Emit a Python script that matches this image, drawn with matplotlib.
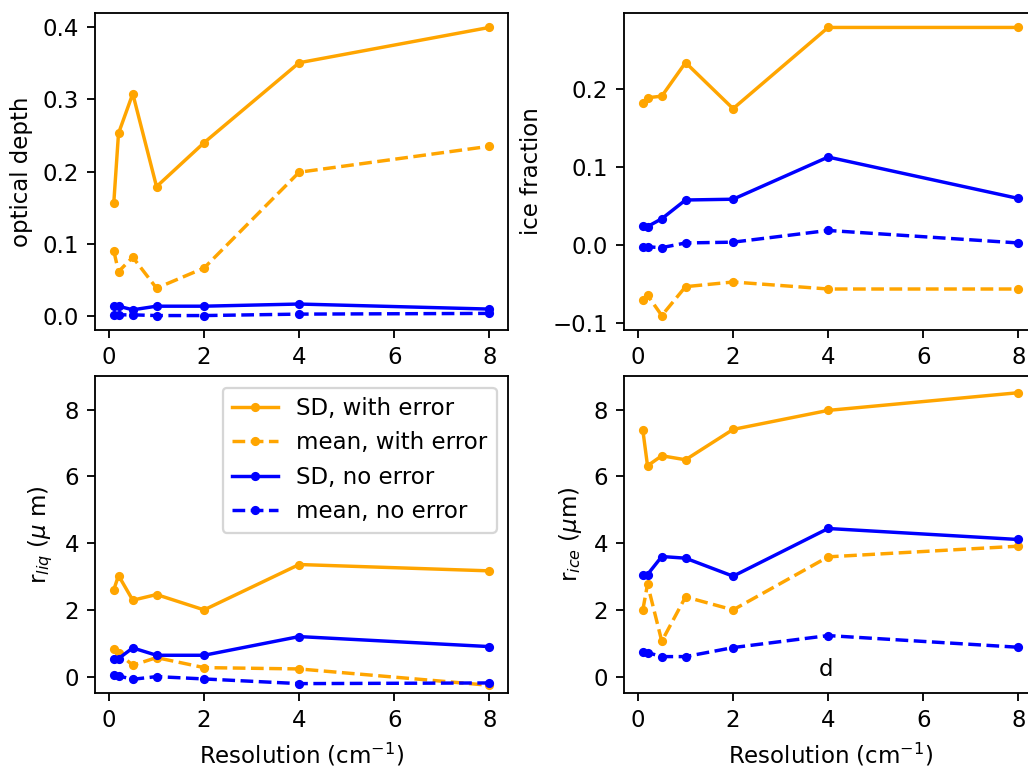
import numpy as np
import matplotlib
matplotlib.use('Agg')
import matplotlib.pyplot as plt

# resolution values (cm^-1)
res = [0.1, 0.2, 0.5, 1, 2, 4, 8]

# optical depth
od_sd_err = [0.156, 0.253, 0.308, 0.179, 0.240, 0.351, 0.400]
od_mean_err = [0.090, 0.061, 0.081, 0.038, 0.066, 0.199, 0.235]
od_sd_noerr = [0.013, 0.013, 0.008, 0.013, 0.013, 0.016, 0.009]
od_mean_noerr = [0.001, 0.001, 0.001, 0.000, 0.000, 0.002, 0.003]

# ice fraction
fi_sd_err = [0.182, 0.189, 0.191, 0.234, 0.175, 0.279, 0.279]
fi_mean_err = [-0.070, -0.064, -0.090, -0.053, -0.047, -0.056, -0.056]
fi_sd_noerr = [0.025, 0.024, 0.034, 0.058, 0.059, 0.113, 0.060]
fi_mean_noerr = [-0.002, -0.002, -0.003, 0.003, 0.004, 0.019, 0.003]

# liquid effective radius
rl_sd_err = [2.60, 3.03, 2.29, 2.46, 2.00, 3.36, 3.17]
rl_mean_err = [0.84, 0.70, 0.34, 0.57, 0.27, 0.23, -0.26]
rl_sd_noerr = [0.54, 0.54, 0.86, 0.64, 0.64, 1.20, 0.90]
rl_mean_noerr = [0.05, 0.02, -0.08, 0.00, -0.07, -0.21, -0.19]

# ice effective radius
ri_sd_err = [7.40, 6.32, 6.62, 6.50, 7.41, 7.98, 8.51]
ri_mean_err = [1.99, 2.77, 1.06, 2.39, 2.00, 3.59, 3.91]
ri_sd_noerr = [3.06, 3.06, 3.60, 3.55, 3.01, 4.44, 4.11]
ri_mean_noerr = [0.73, 0.72, 0.60, 0.60, 0.87, 1.23, 0.88]

DPI = 165
fig = plt.figure(figsize=(1028/DPI, 767/DPI), dpi=DPI)
w, h = 0.4018, 0.4132
ax1 = fig.add_axes([0.0924, 0.5698, w, h])
ax2 = fig.add_axes([0.607, 0.5698, w, h])
ax3 = fig.add_axes([0.0924, 0.0961, w, h])
ax4 = fig.add_axes([0.607, 0.0961, w, h])


def draw(ax, sd_err, mean_err, sd_noerr, mean_noerr):
    ax.plot(res, sd_err, '.-', color='orange', label='SD, with error')
    ax.plot(res, mean_err, '.--', color='orange', label='mean, with error')
    ax.plot(res, sd_noerr, '.-', color='blue', label='SD, no error')
    ax.plot(res, mean_noerr, '.--', color='blue', label='mean, no error')


draw(ax1, od_sd_err, od_mean_err, od_sd_noerr, od_mean_noerr)
ax1.set_ylabel('optical depth')

draw(ax2, fi_sd_err, fi_mean_err, fi_sd_noerr, fi_mean_noerr)
ax2.set_ylabel('ice fraction')

draw(ax3, rl_sd_err, rl_mean_err, rl_sd_noerr, rl_mean_noerr)
ax3.set_ylabel(r'r$_{liq}$ ($\mu$ m)')
ax3.set_xlabel('Resolution (cm$^{-1}$)')
ax3.set_ylim(-0.5, 9)
ax3.legend(loc='upper right')

draw(ax4, ri_sd_err, ri_mean_err, ri_sd_noerr, ri_mean_noerr)
ax4.set_ylabel(r'r$_{ice}$ ($\mu$m)')
ax4.set_xlabel('Resolution (cm$^{-1}$)')
ax4.set_ylim(-0.5, 9)
ax4.text(3.95, 0.22, 'd', ha='center', va='center')

for ax in [ax1, ax2, ax3, ax4]:
    ax.set_xticks([0, 2, 4, 6, 8])

fig.savefig('out.png', dpi=DPI)
